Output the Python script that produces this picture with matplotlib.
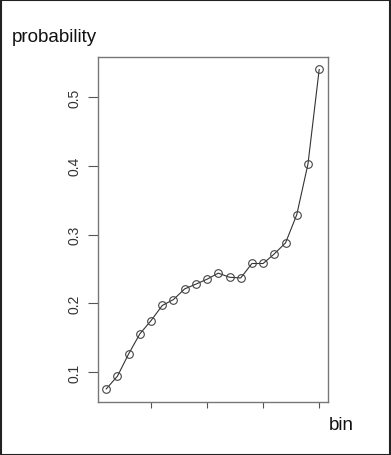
import matplotlib
matplotlib.use("Agg")
import matplotlib.pyplot as plt
from matplotlib.patches import Rectangle

bins = list(range(1, 21))
probability = [0.0757, 0.0942, 0.1266, 0.1557, 0.175, 0.197, 0.2056, 0.2211,
               0.228, 0.2352, 0.244, 0.238, 0.237, 0.258, 0.258, 0.272,
               0.288, 0.329, 0.4026, 0.540]
y_ticks = [0.1, 0.2, 0.3, 0.4, 0.5]
x_ticks = [5, 10, 15, 20]

plt.rcParams['font.family'] = ['Liberation Sans', 'DejaVu Sans']

W, H = 391, 456
fig = plt.figure(figsize=(W / 100, H / 100), dpi=100)
ax = fig.add_axes([97.7 / W, 1 - 402.7 / H, (327.7 - 97.7) / W, (402.7 - 57.7) / H])

ax.plot(bins, probability, color='#333333', lw=0.8, marker='o', ms=5.5,
        mfc='none', mec='#444444', mew=0.8)

span_y = max(probability) - min(probability)
ax.set_ylim(min(probability) - 0.04 * span_y, max(probability) + 0.04 * span_y)
ax.set_xlim(1 - 0.04 * 19, 20 + 0.04 * 19)
ax.set_yticks(y_ticks)
ax.set_yticklabels([f"{v:.1f}" for v in y_ticks], rotation=90, va='center',
                   fontsize=10, color='#333333')
ax.set_xticks(x_ticks)
ax.set_xticklabels([])
ax.tick_params(axis='y', length=7, width=0.8, color='#555555', pad=5)
ax.tick_params(axis='x', length=4, width=0.8, color='#555555')
for s in ax.spines.values():
    s.set_color('#777777')
    s.set_linewidth(1.0)

fig.text(12 / W, 1 - 42 / H, 'probability', fontsize=13.5, color='#111111',
         ha='left', va='baseline')
fig.text(329 / W, 1 - 430 / H, 'bin', fontsize=13.5, color='#111111',
         ha='left', va='baseline')

border = Rectangle((0.5 / W, 0.5 / H), 1 - 1.5 / W, 1 - 1.5 / H,
                   transform=fig.transFigure, fill=False,
                   edgecolor='#222222', lw=1.5)
fig.patches.append(border)

fig.savefig('out.png', dpi=100)
